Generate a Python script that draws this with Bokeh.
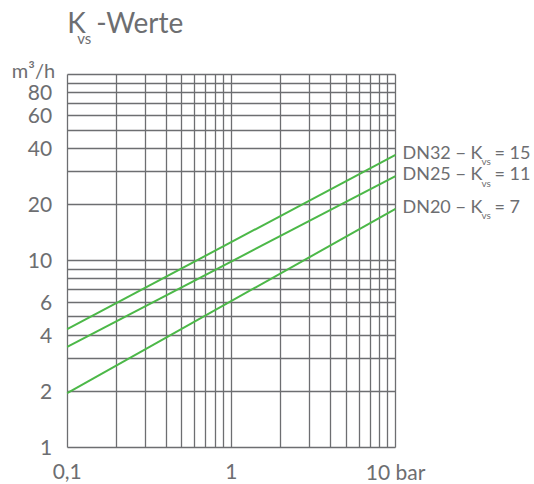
import math
from bokeh.plotting import figure
from bokeh.models import Range1d, FixedTicker, Label, Grid
from bokeh.embed import file_html
from bokeh.resources import INLINE

# ---- data ----
dp = [0.1, 10]                      # pressure drop, bar (line end points)
series_names = ["DN32", "DN25", "DN20"]
kvs_values = [15, 11, 7]
q_dn32 = [4.3, 37.0]                # flow, m3/h
q_dn25 = [3.45, 28.5]
q_dn20 = [1.95, 19.0]
series_q = [q_dn32, q_dn25, q_dn20]

x_ticks = [0.1, 1, 10]
x_tick_labels = ["0,1", "1", "10 bar"]
y_ticks = [1, 2, 4, 6, 10, 20, 40, 60, 80]
y_tick_labels = ["1", "2", "4", "6", "10", "20", "40", "60", "80"]
x_grid = [0.1, 0.2, 0.3, 0.4, 0.5, 0.6, 0.7, 0.8, 0.9, 1, 2, 3, 4, 5, 6, 7, 8, 9, 10]
y_grid = [1, 2, 3, 4, 5, 6, 7, 8, 9, 10, 20, 30, 40, 50, 60, 70, 80, 90, 100]
x_lim = (0.1, 10)
y_lim = (1, 100)

# ---- layout (pixels) ----
W, H = 534, 484
BOX_L, BOX_R, BOX_T, BOX_B = 66.7, 395.0, 74.0, 446.7
GRAY = "#6d6e71"
GREEN = "#4cb848"
FONT = "Lato"

# the frame fills the canvas; the chart box is placed inside it
lx0, lx1 = math.log10(x_lim[0]), math.log10(x_lim[1])
ly0, ly1 = math.log10(y_lim[0]), math.log10(y_lim[1])
kx = (lx1 - lx0) / (BOX_R - BOX_L)
ky = (ly1 - ly0) / (BOX_B - BOX_T)
x_range = Range1d(10 ** (lx0 - BOX_L * kx), 10 ** (lx1 + (W - BOX_R) * kx))
y_range = Range1d(10 ** (ly0 - (H - BOX_B) * ky), 10 ** (ly1 + BOX_T * ky))

p = figure(width=W, height=H, x_axis_type="log", y_axis_type="log",
           x_range=x_range, y_range=y_range,
           output_backend="svg", toolbar_location=None,
           min_border=0)
p.title.visible = False
p.xaxis.visible = False
p.yaxis.visible = False
p.grid.visible = False
p.outline_line_color = None
p.background_fill_color = "white"
p.border_fill_color = "white"

xg = Grid(dimension=0, ticker=FixedTicker(ticks=x_grid), bounds=x_lim, cross_bounds=y_lim,
          grid_line_color=GRAY, grid_line_width=1.3)
yg = Grid(dimension=1, ticker=FixedTicker(ticks=y_grid), bounds=y_lim, cross_bounds=x_lim,
          grid_line_color=GRAY, grid_line_width=1.3)
p.add_layout(xg)
p.add_layout(yg)

for q in series_q:
    p.line(dp, q, line_color=GREEN, line_width=2)

# tick labels
for t, s in zip(y_ticks, y_tick_labels):
    p.add_layout(Label(x=x_lim[0], y=t, text=s, x_offset=-15, text_align="right",
                       text_baseline="middle", text_font=FONT, text_font_size="21px",
                       text_color=GRAY))
for t, s in zip(x_ticks, x_tick_labels):
    p.add_layout(Label(x=t, y=y_lim[0], text=s, y_offset=-24, text_align="center",
                       text_baseline="middle", text_font=FONT, text_font_size="21px",
                       text_color=GRAY))

# labels at the line ends
for name, k, q in zip(series_names, kvs_values, series_q):
    common = dict(x=dp[-1], y=q[-1], text_font=FONT, text_color=GRAY, text_baseline="middle")
    p.add_layout(Label(text=f"{name} \u2212 K", x_offset=7, y_offset=3.4,
                       text_font_size="18px", **common))
    p.add_layout(Label(text="vs", x_offset=86, y_offset=-6.5,
                       text_font_size="10px", **common))
    p.add_layout(Label(text=f"= {k}", x_offset=99, y_offset=3.4,
                       text_font_size="18px", **common))

# title and unit
tcommon = dict(x=x_lim[0], y=y_lim[1], text_font=FONT, text_color=GRAY, text_baseline="middle")
p.add_layout(Label(text="K", x_offset=0, y_offset=52.5, text_font_size="28px", **tcommon))
p.add_layout(Label(text="vs", x_offset=10, y_offset=36.5, text_font_size="15px", **tcommon))
p.add_layout(Label(text="-Werte", x_offset=29, y_offset=52.5, text_font_size="28px", **tcommon))
p.add_layout(Label(text="m\u00b3/h", x_offset=-12, y_offset=4.1, text_font_size="20px",
                   text_align="right", **tcommon))

open("out.html", "w").write(file_html(p, INLINE))
